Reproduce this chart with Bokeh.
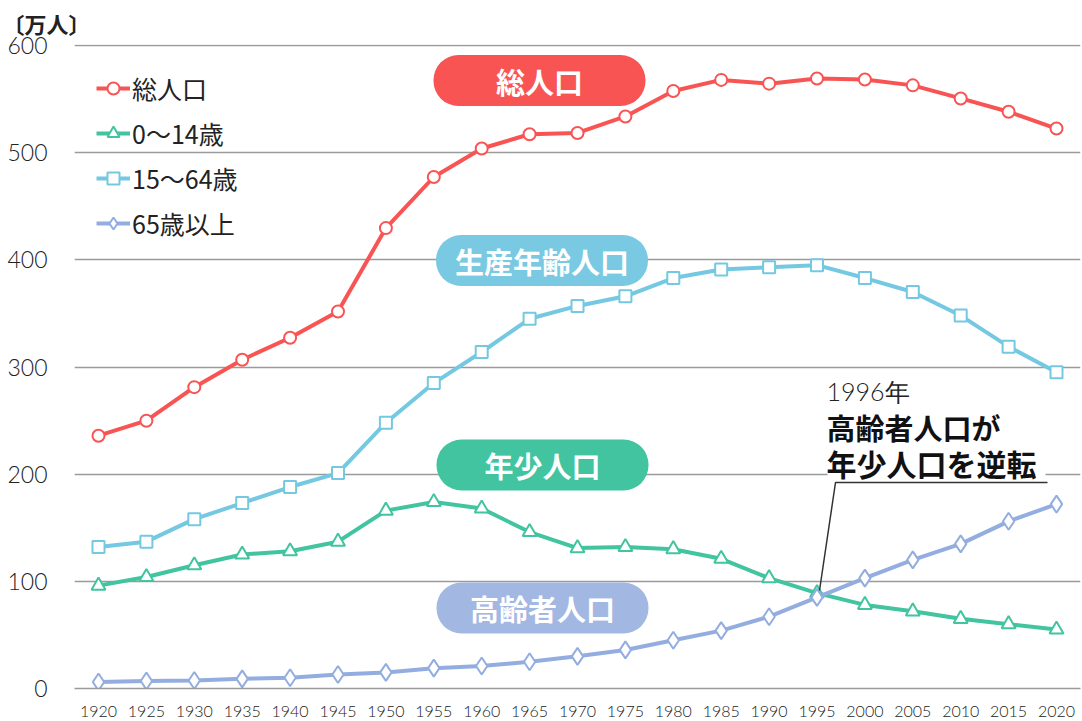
from bokeh.plotting import figure
from bokeh.models import Legend, LegendItem, Label, FixedTicker, Range1d
from bokeh.embed import file_html
from bokeh.resources import INLINE
from bokeh.core.properties import value

# ---------------- data ----------------
years = [1920, 1925, 1930, 1935, 1940, 1945, 1950, 1955, 1960, 1965, 1970,
         1975, 1980, 1985, 1990, 1995, 2000, 2005, 2010, 2015, 2020]
total = [235.9, 249.9, 281.2, 306.8, 327.3, 351.8, 429.6, 477.3, 503.9, 517.2, 518.4,
         533.8, 557.6, 567.9, 564.4, 569.2, 568.3, 562.8, 550.6, 538.2, 522.5]
age0_14 = [96, 104, 115, 125, 128, 137, 166, 174, 168, 146, 131,
           132, 130, 121, 103, 89, 78, 72, 65, 60, 55]
age15_64 = [132, 137, 158, 173, 188, 201, 248, 285, 314, 345, 357,
            366, 383, 391, 393, 395, 383, 370, 348, 319, 295]
age65 = [6, 7, 7.5, 9, 10, 13, 15, 19, 21, 25, 30,
         36, 45, 54, 67, 85, 103, 120, 135, 156, 172]
legend_labels = ["総人口", "0〜14歳", "15〜64歳", "65歳以上"]
pill_labels = ["総人口", "生産年齢人口", "年少人口", "高齢者人口"]
y_ticks = [0, 100, 200, 300, 400, 500, 600]
unit_label = "〔万人〕"
note_year = "1996年"
note_lines = ["高齢者人口が", "年少人口を逆転"]

# ---------------- style ----------------
RED = "#F95454"
GREEN = "#41C49F"
LBLUE = "#74C8E2"
PURPLE = "#93ADE0"
PILL_COLORS = [RED, "#7AC9E2", GREEN, "#A2B7E2"]
JP = "Noto Sans CJK JP"
NUM = "Lato Light"
GRID = "#9A9A9A"

W, H = 1082, 721
FL, FR, FT, FB = 74, 1080, 44, 688   # frame in canvas pixels
ppx = 958 / 100.0        # px per year
ppy = 643 / 600.0        # px per 万人
X0 = 1920 - (98 - FL) / ppx
X1 = X0 + (FR - FL) / ppx
Y0 = 0
Y1 = (FB - FT) / ppy


def px2x(px):
    return X0 + (px - FL) / ppx


def py2y(py):
    return (FB - py) / ppy


p = figure(width=W, height=H, output_backend="svg", toolbar_location=None,
           x_range=Range1d(X0, X1), y_range=Range1d(Y0, Y1),
           min_border_left=FL, min_border_right=W - FR, min_border_top=FT,
           min_border_bottom=H - FB)
p.outline_line_color = None
p.background_fill_color = "white"

# unit label as title
p.title.text = unit_label
p.title.align = "left"
p.title.offset = -72
p.title.standoff = 10
p.title.vertical_align = "middle"
p.title.text_font = JP
p.title.text_font_style = "bold"
p.title.text_font_size = "22px"
p.title.text_color = "#222222"

# axes
p.xaxis.ticker = FixedTicker(ticks=years)
p.xaxis.major_label_text_font = NUM
p.xaxis.major_label_text_font_size = "16px"
p.xaxis.major_label_text_color = "#222222"
p.xaxis.major_tick_line_color = None
p.xaxis.minor_tick_line_color = None
p.xaxis.axis_line_color = GRID
p.xaxis.axis_line_width = 1.5
p.xaxis.major_label_standoff = 11

p.yaxis.ticker = FixedTicker(ticks=y_ticks)
p.yaxis.major_label_text_font = NUM
p.yaxis.major_label_text_font_size = "23px"
p.yaxis.major_label_text_color = "#222222"
p.yaxis.major_tick_line_color = None
p.yaxis.minor_tick_line_color = None
p.yaxis.axis_line_color = None
p.yaxis.major_label_standoff = 21

p.xgrid.grid_line_color = None
p.ygrid.ticker = FixedTicker(ticks=y_ticks)
p.ygrid.grid_line_color = GRID
p.ygrid.grid_line_width = 1.5

# series
series = [
    (total, RED, "circle", 12),
    (age0_14, GREEN, "triangle", 14),
    (age15_64, LBLUE, "square", 12),
    (age65, PURPLE, "diamond", 17),
]
items = []
for (vals, col, mk, sz), lab in zip(series, legend_labels):
    rl = p.line(years, vals, line_color=col, line_width=4)
    rm = p.scatter(years, vals, marker=mk, size=sz, fill_color="white",
                   line_color=col, line_width=2)
    items.append(LegendItem(label=lab, renderers=[rl, rm]))

legend = Legend(items=items, location=(22, 446),
                label_text_font=JP, label_text_font_size="25px",
                label_text_color="#222222",
                glyph_width=34, glyph_height=30, label_height=38, spacing=7,
                padding=0, margin=0, label_standoff=2,
                background_fill_alpha=0, border_line_alpha=0)
p.add_layout(legend)

# pills
pill_px = [(539, 80), (541.5, 260), (542, 464.5), (542, 607.5)]
pill_x = [px2x(a) for a, b in pill_px]
pill_y = [py2y(b) for a, b in pill_px]
p.rect(x=pill_x, y=pill_y, width=212, height=51, width_units="screen",
       height_units="screen", fill_color=PILL_COLORS, line_color=None,
       border_radius=25)
p.text(x=pill_x, y=pill_y, text=pill_labels, text_font=value(JP),
       text_font_style="bold", text_font_size="29px", text_color="white",
       text_align="center", text_baseline="middle")

# annotation: white gap in gridline behind the note, then leader line
p.quad(left=[px2x(827)], right=[px2x(1045)], top=[py2y(466)], bottom=[py2y(479)],
       fill_color="white", line_color=None)
p.line(x=[px2x(1047), px2x(835), px2x(819)],
       y=[py2y(482), py2y(482), py2y(590)],
       line_color="#333333", line_width=1.5)
p.add_layout(Label(x=px2x(826), y=py2y(390), text=note_year,
                   text_font=NUM, text_font_size="25px", text_color="#222222",
                   text_baseline="middle", text_align="left"))
p.add_layout(Label(x=px2x(826), y=py2y(426), text=note_lines[0],
                   text_font=JP, text_font_style="bold", text_font_size="29px",
                   text_color="#111111", text_baseline="middle", text_align="left"))
p.add_layout(Label(x=px2x(826), y=py2y(462), text=note_lines[1],
                   text_font=JP, text_font_style="bold", text_font_size="30px",
                   text_color="#111111", text_baseline="middle", text_align="left"))

open("out.html", "w").write(file_html(p, INLINE))
